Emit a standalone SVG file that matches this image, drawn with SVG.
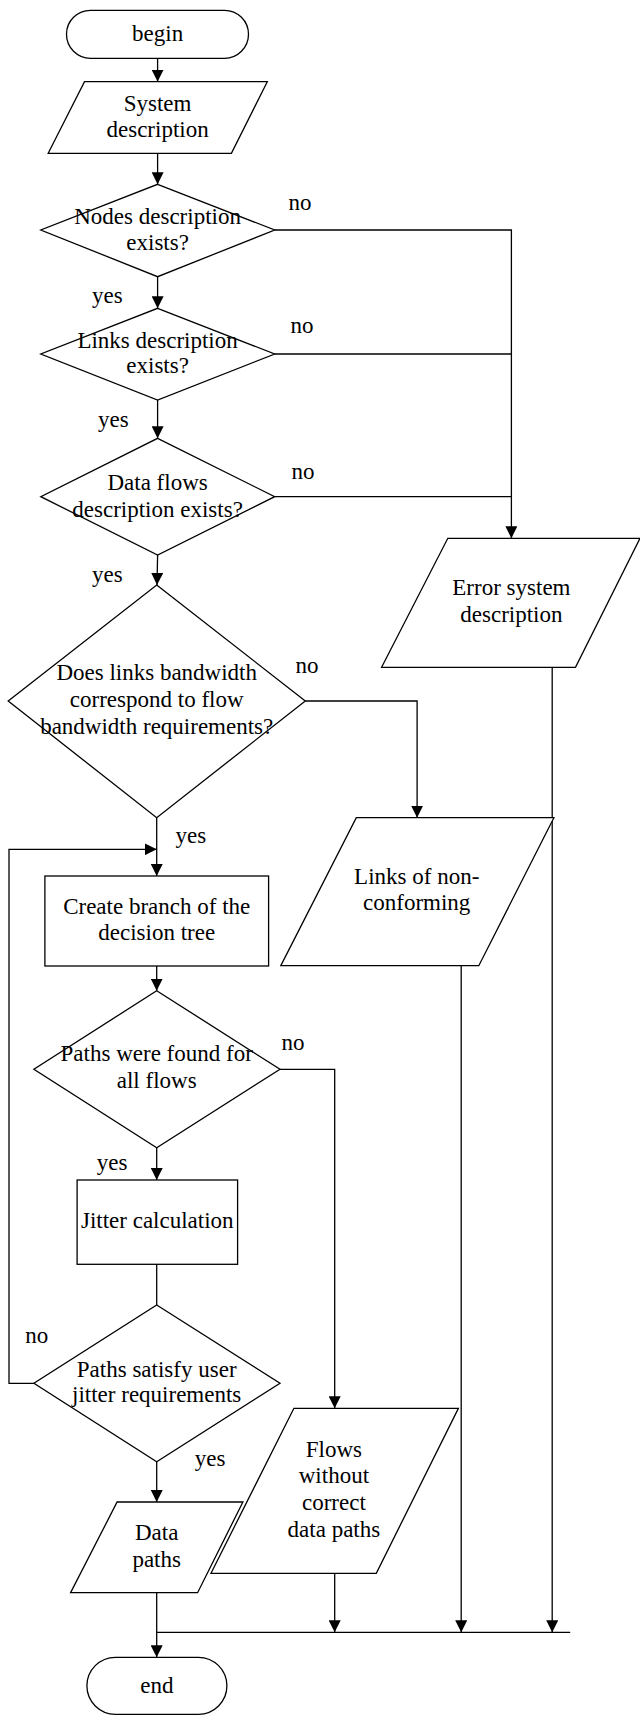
<svg xmlns="http://www.w3.org/2000/svg" width="640" height="1715" viewBox="0 0 640 1715">
<style>
.s{fill:#fff;stroke:#000;stroke-width:1.3}
.c{fill:none;stroke:#000;stroke-width:1.3}
text{font-family:"Liberation Serif","Times New Roman",serif;font-size:23px;fill:#000}
.m{text-anchor:middle}
</style>
<defs>
<marker id="a" markerUnits="userSpaceOnUse" markerWidth="12" markerHeight="12" refX="12" refY="6" orient="auto">
<path d="M0,0 L12,6 L0,12 z" fill="#000"/>
</marker>
</defs>
<g id="connectors">
<line class="c" x1="157.6" y1="58.3" x2="157.6" y2="81.7" marker-end="url(#a)"/>
<line class="c" x1="157.6" y1="153.3" x2="157.6" y2="184.3" marker-end="url(#a)"/>
<line class="c" x1="157.6" y1="276.7" x2="157.6" y2="308.3" marker-end="url(#a)"/>
<line class="c" x1="157.6" y1="400" x2="157.6" y2="438.3" marker-end="url(#a)"/>
<line class="c" x1="157.6" y1="555" x2="157" y2="585" marker-end="url(#a)"/>
<polyline class="c" points="274.7,230 511.4,230 511.4,538.3" marker-end="url(#a)"/>
<line class="c" x1="274.7" y1="354" x2="511.4" y2="354"/>
<line class="c" x1="274.7" y1="496.7" x2="511.4" y2="496.7"/>
<line class="c" x1="156.7" y1="817.7" x2="156.7" y2="876" marker-end="url(#a)"/>
<polyline class="c" points="305.3,701 417.1,701 417.1,817.7" marker-end="url(#a)"/>
<line class="c" x1="156.7" y1="966" x2="156.7" y2="990.7" marker-end="url(#a)"/>
<line class="c" x1="156.7" y1="1147.7" x2="156.7" y2="1180" marker-end="url(#a)"/>
<polyline class="c" points="280,1069.3 334.7,1069.3 334.7,1408.3" marker-end="url(#a)"/>
<line class="c" x1="156.7" y1="1264.3" x2="156.7" y2="1305"/>
<polyline class="c" points="33.9,1383.3 9,1383.3 9,849.3 156.7,849.3" marker-end="url(#a)"/>
<line class="c" x1="156.7" y1="1461.7" x2="156.7" y2="1502" marker-end="url(#a)"/>
<line class="c" x1="156.7" y1="1592.7" x2="156.7" y2="1657.3" marker-end="url(#a)"/>
<line class="c" x1="156.7" y1="1632.3" x2="570.2" y2="1632.3"/>
<line class="c" x1="334.7" y1="1573.3" x2="334.7" y2="1632.3" marker-end="url(#a)"/>
<line class="c" x1="461.2" y1="965.7" x2="461.2" y2="1632.3" marker-end="url(#a)"/>
<line class="c" x1="552.2" y1="667.3" x2="552.2" y2="1632.3" marker-end="url(#a)"/>
</g>
<g id="labels">
<text x="288.6" y="210">no</text>
<text x="290.6" y="333">no</text>
<text x="291.4" y="479">no</text>
<text x="295.5" y="673">no</text>
<text x="281.6" y="1050">no</text>
<text x="25.3" y="1343">no</text>
<text x="92" y="303">yes</text>
<text x="98" y="426.7">yes</text>
<text x="92" y="581.7">yes</text>
<text x="175.5" y="843.3">yes</text>
<text x="96.7" y="1170">yes</text>
<text x="194.7" y="1466">yes</text>
</g>
<g id="begin">
<rect class="s" x="66.5" y="10.3" width="182" height="48" rx="24"/>
<text class="m" x="157.6" y="41">begin</text>
</g>
<g id="system">
<polygon class="s" points="84.5,81.7 267.3,81.7 231.4,153.3 48.2,153.3"/>
<text class="m" x="157.6" y="111">System</text>
<text class="m" x="157.6" y="137">description</text>
</g>
<g id="nodes">
<polygon class="s" points="157.6,184.3 274.7,230 157.6,276.7 40.8,230"/>
<text class="m" x="157.6" y="224">Nodes description</text>
<text class="m" x="157.6" y="250">exists?</text>
</g>
<g id="links">
<polygon class="s" points="157.6,308.3 274.7,354 157.6,400 40.8,354"/>
<text class="m" x="157.6" y="348">Links description</text>
<text class="m" x="157.6" y="373">exists?</text>
</g>
<g id="flows">
<polygon class="s" points="157.6,438.3 274.7,496.7 157.6,555 40.8,496.7"/>
<text class="m" x="157.6" y="490">Data flows</text>
<text class="m" x="157.6" y="516.7">description exists?</text>
</g>
<g id="error">
<polygon class="s" points="447.8,538.3 640,538.3 575.5,667.3 381.6,667.3"/>
<text class="m" x="511.4" y="595">Error system</text>
<text class="m" x="511.4" y="621.7">description</text>
</g>
<g id="bandwidth">
<polygon class="s" points="156.7,585 305.3,701 156.7,817.7 8.2,701"/>
<text class="m" x="156.7" y="680">Does links bandwidth</text>
<text class="m" x="156.7" y="707.3">correspond to flow</text>
<text class="m" x="156.7" y="734">bandwidth requirements?</text>
</g>
<g id="nonconf">
<polygon class="s" points="356.3,817.7 553.9,817.7 478.8,965.7 280.8,965.7"/>
<text class="m" x="416.7" y="884">Links of non-</text>
<text class="m" x="416.7" y="910">conforming</text>
</g>
<g id="branch">
<rect class="s" x="44.9" y="876" width="223.7" height="90"/>
<text class="m" x="156.7" y="914">Create branch of the</text>
<text class="m" x="156.7" y="940">decision tree</text>
</g>
<g id="found">
<polygon class="s" points="156.7,990.7 280,1069.3 156.7,1147.7 33.9,1069.3"/>
<text class="m" x="156.7" y="1060.7">Paths were found for</text>
<text class="m" x="156.7" y="1087.7">all flows</text>
</g>
<g id="jitter">
<rect class="s" x="77.1" y="1180" width="160.5" height="84.3"/>
<text class="m" x="157.3" y="1228.3">Jitter calculation</text>
</g>
<g id="satisfy">
<polygon class="s" points="156.7,1305 280,1383.3 156.7,1461.7 33.9,1383.3"/>
<text class="m" x="156.7" y="1376.7">Paths satisfy user</text>
<text class="m" x="156.7" y="1401.7">jitter requirements</text>
</g>
<g id="without">
<polygon class="s" points="293.9,1408.3 458.4,1408.3 376.3,1573.3 211,1573.3"/>
<text class="m" x="333.9" y="1456.7">Flows</text>
<text class="m" x="333.9" y="1483.3">without</text>
<text class="m" x="333.9" y="1510">correct</text>
<text class="m" x="333.9" y="1536.7">data paths</text>
</g>
<g id="datapaths">
<polygon class="s" points="117.1,1502 242.9,1502 197.6,1592.7 70.6,1592.7"/>
<text class="m" x="156.7" y="1540">Data</text>
<text class="m" x="156.7" y="1566.7">paths</text>
</g>
<g id="end">
<rect class="s" x="86.9" y="1657.3" width="140" height="57" rx="28.5"/>
<text class="m" x="156.9" y="1693.3">end</text>
</g>
</svg>
